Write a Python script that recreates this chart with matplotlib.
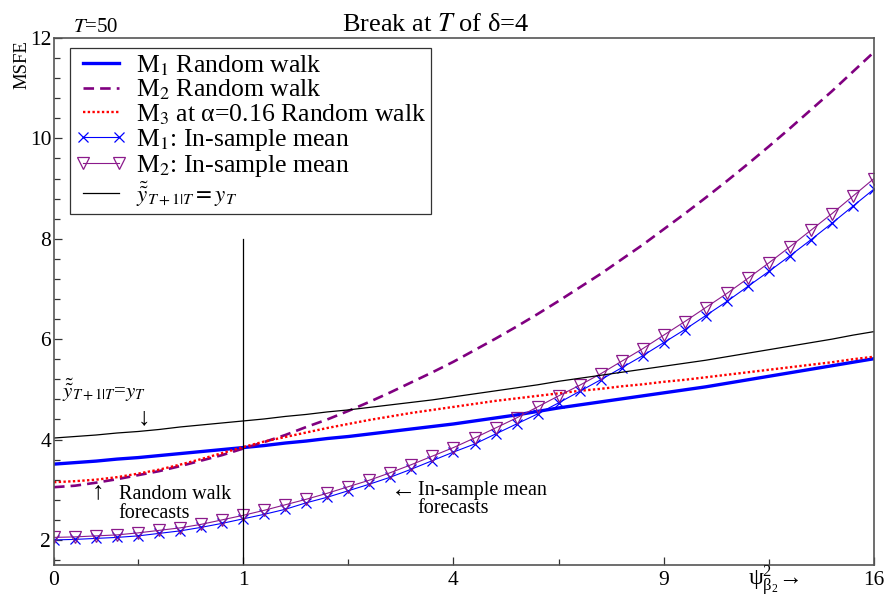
import matplotlib
matplotlib.use("Agg")
import matplotlib.pyplot as plt
from matplotlib.ticker import FixedLocator, MultipleLocator

plt.rcParams['font.family'] = ['Liberation Serif', 'DejaVu Sans']
plt.rcParams['mathtext.fontset'] = 'stix'

# x values: psi_{beta_2} (axis labelled in psi^2)
psi = [0.1, 0.2, 0.3, 0.4, 0.5, 0.6, 0.7, 0.8, 0.9, 1.0,
       1.1, 1.2, 1.3, 1.4, 1.5, 1.6, 1.7, 1.8, 1.9, 2.0,
       2.1, 2.2, 2.3, 2.4, 2.5, 2.6, 2.7, 2.8, 2.9, 3.0,
       3.1, 3.2, 3.3, 3.4, 3.5, 3.6, 3.7, 3.8, 3.9, 4.0]

m1_rw = [3.51, 3.54, 3.57, 3.61, 3.64, 3.68, 3.72, 3.76, 3.80, 3.84,
         3.88, 3.93, 3.97, 4.02, 4.06, 4.11, 4.16, 4.21, 4.26, 4.31,
         4.37, 4.43, 4.49, 4.56, 4.63, 4.69, 4.75, 4.81, 4.87, 4.93,
         4.99, 5.05, 5.12, 5.19, 5.26, 5.33, 5.40, 5.47, 5.54, 5.61]

m2_rw = [3.05, 3.08, 3.14, 3.21, 3.29, 3.37, 3.47, 3.58, 3.69, 3.82,
         3.95, 4.09, 4.25, 4.40, 4.57, 4.75, 4.94, 5.14, 5.34, 5.55,
         5.78, 6.01, 6.25, 6.50, 6.76, 7.03, 7.30, 7.59, 7.88, 8.19,
         8.50, 8.82, 9.15, 9.49, 9.84, 10.20, 10.57, 10.94, 11.33, 11.72]

m3_rw = [3.15, 3.17, 3.20, 3.25, 3.32, 3.40, 3.50, 3.61, 3.73, 3.85,
         3.96, 4.05, 4.14, 4.23, 4.31, 4.39, 4.46, 4.53, 4.59, 4.65,
         4.71, 4.77, 4.82, 4.87, 4.92, 4.97, 5.01, 5.06, 5.10, 5.15,
         5.19, 5.24, 5.29, 5.34, 5.39, 5.44, 5.49, 5.54, 5.60, 5.65]

m1_ism = [2.00, 2.01, 2.03, 2.05, 2.08, 2.13, 2.18, 2.25, 2.33, 2.42,
          2.51, 2.61, 2.74, 2.85, 2.98, 3.11, 3.25, 3.41, 3.58, 3.75,
          3.91, 4.11, 4.31, 4.51, 4.73, 4.96, 5.19, 5.43, 5.67, 5.93,
          6.19, 6.47, 6.75, 7.05, 7.35, 7.66, 7.98, 8.31, 8.65, 8.99]

m2_ism = [2.05, 2.06, 2.08, 2.10, 2.14, 2.19, 2.24, 2.31, 2.40, 2.49,
          2.59, 2.70, 2.81, 2.93, 3.06, 3.19, 3.34, 3.50, 3.67, 3.84,
          4.03, 4.23, 4.43, 4.65, 4.87, 5.08, 5.31, 5.56, 5.81, 6.08,
          6.35, 6.63, 6.91, 7.21, 7.52, 7.84, 8.17, 8.50, 8.85, 9.20]

naive = [4.03, 4.06, 4.09, 4.13, 4.16, 4.20, 4.25, 4.29, 4.33, 4.37,
         4.41, 4.46, 4.50, 4.55, 4.59, 4.64, 4.69, 4.74, 4.79, 4.85,
         4.91, 4.97, 5.03, 5.09, 5.16, 5.22, 5.28, 5.34, 5.40, 5.46,
         5.52, 5.58, 5.65, 5.72, 5.79, 5.86, 5.93, 6.00, 6.08, 6.15]

xtick_pos = [0.1, 1, 2, 3, 4]
xtick_labels = ['0', '1', '4', '9', '16']
ytick_pos = [2, 4, 6, 8, 10, 12]

fig = plt.figure(figsize=(8.88, 6.01), dpi=100)
ax = fig.add_axes([54/888, 36/601, 820/888, 527/601])

ax.plot(psi, m1_rw, color='#0000ff', lw=2.4, label=r'M$_1$ Random walk')
ax.plot(psi, m2_rw, color='#800080', lw=1.9, ls=(0, (4, 2.3)), label=r'M$_2$ Random walk')
ax.plot(psi, m3_rw, color='#ff0000', lw=1.7, ls=(0, (1, 1)), label=r'M$_3$ at α=0.16 Random walk')
ax.plot(psi, m1_ism, color='#0000ff', lw=0.8, marker='x', ms=7.5, mew=0.9,
        label=r'M$_1$: In-sample mean')
ax.plot(psi, m2_ism, color='#8b1a8b', lw=0.8, marker='v', ms=8, mew=0.9, mfc='none',
        label=r'M$_2$: In-sample mean')
ax.plot(psi, naive, color='black', lw=0.9,
        label=r'$\tilde{\tilde{y}}_{T+1|T}=y_T$')

ax.plot([1, 1], [1.5, 8], color='black', lw=0.9)

ax.set_xlim(0.1, 4)
ax.set_ylim(1.5, 12)
ax.xaxis.set_major_locator(FixedLocator(xtick_pos))
ax.set_xticklabels(xtick_labels)
ax.xaxis.set_minor_locator(FixedLocator([0.5, 1.5, 2.5, 3.5]))
ax.yaxis.set_major_locator(FixedLocator(ytick_pos))
ax.yaxis.set_minor_locator(MultipleLocator(0.4))
ax.tick_params(which='both', direction='in', top=False, right=False, colors='#333333',
               labelcolor='black')
ax.tick_params(which='major', length=6, width=0.9, labelsize=15.5)
ax.tick_params(which='minor', length=4, width=0.9)
ax.tick_params(axis='x', pad=4)
ax.tick_params(axis='y', pad=2)
for s in ax.spines.values():
    s.set_color('#555555')
    s.set_linewidth(1.2)

leg = ax.legend(loc='upper left', bbox_to_anchor=(16/820, 1 - 10/527), fontsize=18.5,
                frameon=True, fancybox=False, edgecolor='#333333', framealpha=1,
                handlelength=2.0, handletextpad=0.35, labelspacing=0.0, borderpad=0.2,
                borderaxespad=0, numpoints=2)
leg.get_frame().set_linewidth(0.9)
leg.get_texts()[5].set_fontsize(16.5)

# annotations
ax.text(0.14, 4.98, r'$\tilde{\tilde{y}}_{T+1|T}$=$y_T$', fontsize=15, va='center', ha='left')
ax.text(0.526, 4.42, '↓', fontsize=18, va='center', ha='center')
ax.text(0.308, 2.96, '↑', fontsize=18, va='center', ha='center')
ax.text(0.408, 2.90, 'Random walk', fontsize=14.5, va='center', ha='left')
ax.text(0.408, 2.52, 'forecasts', fontsize=14.5, va='center', ha='left')
ax.text(1.76, 2.98, '←', fontsize=18, va='center', ha='center')
ax.text(1.83, 2.98, 'In-sample mean', fontsize=14.5, va='center', ha='left')
ax.text(1.83, 2.62, 'forecasts', fontsize=14.5, va='center', ha='left')

ax.text(3.52, -0.04, r'$\mathregular{ψ^2_{β_2}}$→', transform=ax.get_xaxis_transform(),
        fontsize=17, ha='center', va='baseline')

fig.text(22/888, 1 - 65/601, 'MSFE', rotation=90, fontsize=13.5, ha='center', va='center')
fig.text(73/888, 1 - 28/601, r'$T$=50', fontsize=15, ha='left', va='center')
fig.text(436/888, 1 - 25/601, r'Break at $T$ of δ=4', fontsize=19, ha='center', va='center')

fig.savefig('out.png', dpi=100)
